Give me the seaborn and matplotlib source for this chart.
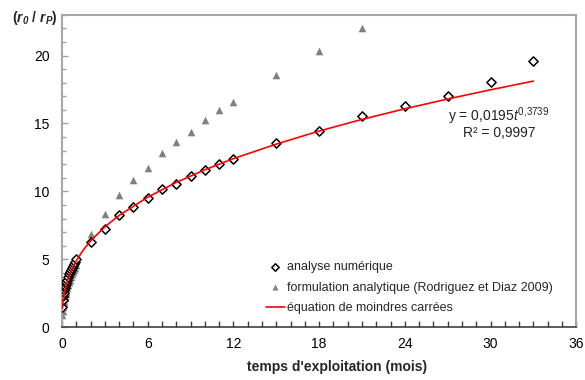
import numpy as np
import pandas as pd
import matplotlib
matplotlib.use('Agg')
import matplotlib.pyplot as plt
import seaborn as sns
from matplotlib.ticker import MultipleLocator

# ── 1. données ───────────────────────────────────────────────
# analyse numérique (losanges)
temps_num = [0.033, 0.067, 0.1, 0.133, 0.167, 0.2, 0.233, 0.267, 0.3, 0.367,
             0.433, 0.5, 0.567, 0.633, 0.7, 0.767, 0.833, 0.9, 1.0,
             2, 3, 4, 5, 6, 7, 8, 9, 10, 11, 12, 15, 18, 21, 24, 27, 30, 33]
r_num = [1.5, 2.0, 2.3, 2.55, 2.75, 2.9, 3.05, 3.2, 3.3, 3.5,
         3.7, 3.9, 4.05, 4.2, 4.35, 4.5, 4.65, 4.8, 5.0,
         6.27, 7.26, 8.28, 8.85, 9.49, 10.2, 10.57, 11.1, 11.6, 12.03, 12.4,
         13.55, 14.46, 15.54, 16.32, 16.99, 18.09, 19.61]

# formulation analytique (Rodriguez et Diaz 2009) (triangles)
temps_ana = [0.033, 0.067, 0.1, 0.133, 0.167, 0.2, 0.233, 0.267, 0.3, 0.367,
             0.433, 0.5, 0.567, 0.633, 0.7, 0.767, 0.833, 0.9, 1.0,
             2, 3, 4, 5, 6, 7, 8, 9, 10, 11, 12, 15, 18, 21]
r_ana = [0.9, 1.2, 1.5, 1.75, 1.95, 2.15, 2.3, 2.45, 2.6, 2.85,
         3.1, 3.3, 3.5, 3.7, 3.9, 4.05, 4.2, 4.35, 4.6,
         6.89, 8.31, 9.76, 10.83, 11.74, 12.84, 13.6, 14.39, 15.29, 15.96, 16.6,
         18.58, 20.32, 22.0]

# équation de moindres carrées (courbe rouge)
temps_fit = [0.033, 0.05, 0.075, 0.1, 0.15, 0.2, 0.3, 0.4, 0.5, 0.75, 1, 1.5,
             2, 3, 4, 6, 8, 10, 12, 15, 18, 21, 24, 27, 30, 33]
r_fit = [1.37, 1.60, 1.86, 2.07, 2.41, 2.68, 3.12, 3.48, 3.78, 4.40, 4.90, 5.70,
         6.35, 7.39, 8.23, 9.57, 10.66, 11.59, 12.41, 13.48, 14.44, 15.30,
         16.08, 16.80, 17.48, 18.12]

df_num = pd.DataFrame({'temps': temps_num, 'r': r_num})
df_ana = pd.DataFrame({'temps': temps_ana, 'r': r_ana})
df_fit = pd.DataFrame({'temps': temps_fit, 'r': r_fit})

# ── 2. style ─────────────────────────────────────────────────
sns.set_theme(style='white')
plt.rcParams['font.family'] = ['Liberation Sans', 'DejaVu Sans']
plt.rcParams['mathtext.fontset'] = 'custom'
plt.rcParams['mathtext.rm'] = 'Liberation Sans'
plt.rcParams['mathtext.it'] = 'Liberation Sans:italic'
plt.rcParams['mathtext.bf'] = 'Liberation Sans:bold'
plt.rcParams['mathtext.bfit'] = 'Liberation Sans:italic:bold'

fig, ax = plt.subplots(figsize=(5.85, 3.8), dpi=100)
fig.subplots_adjust(left=0.106, right=0.985, bottom=0.139, top=0.961)

# ── 3. tracé ─────────────────────────────────────────────────
sns.scatterplot(data=df_ana, x='temps', y='r', marker='^', color='#808080',
                s=30, linewidth=0, ax=ax, zorder=2,
                label='formulation analytique (Rodriguez et Diaz 2009)')
sns.scatterplot(data=df_num, x='temps', y='r', marker='D', facecolor='white',
                edgecolor='black', s=22, linewidth=1.1, ax=ax, zorder=3,
                label='analyse numérique')
sns.lineplot(data=df_fit, x='temps', y='r', color='red', linewidth=1.2,
             estimator=None, sort=False, ax=ax, zorder=4,
             label='équation de moindres carrées')

ax.set_xlim(0, 36)
ax.set_ylim(0, 23)
ax.xaxis.set_major_locator(MultipleLocator(6))
ax.xaxis.set_minor_locator(MultipleLocator(1))
ax.yaxis.set_major_locator(MultipleLocator(5))
ax.yaxis.set_minor_locator(MultipleLocator(1))

ax.tick_params(axis='x', which='both', direction='in', bottom=True,
               colors='#404040', labelcolor='black', labelsize=10, pad=7)
ax.tick_params(axis='x', which='major', length=4, width=1)
ax.tick_params(axis='x', which='minor', length=4, width=1)
ax.tick_params(axis='y', which='both', direction='in', left=True,
               colors='#a0a0a0', labelcolor='black', labelsize=10, pad=9)
ax.tick_params(axis='y', which='major', length=4, width=1)
ax.tick_params(axis='y', which='minor', length=3, width=1)

for side in ['left', 'top', 'right']:
    ax.spines[side].set_color('#a6a6a6')
    ax.spines[side].set_linewidth(1.5)
ax.spines['bottom'].set_color('#404040')
ax.spines['bottom'].set_linewidth(1.2)

ax.set_xlabel("temps d'exploitation (mois)", fontsize=10, fontweight='bold')
ax.xaxis.set_label_coords(0.535, -0.105)
ax.set_ylabel('')
fig.text(12 / 585, 1 - 18 / 380,
         r'$\mathbf{(}\mathbfit{r_0}\mathbf{\ /\ }\mathbfit{r_P}\mathbf{)}$',
         fontsize=10, ha='left', va='center')

# équation et R²
ax.text(0.85, 0.676, r'y = 0,0195$t^{\mathregular{0{,}3739}}$', transform=ax.transAxes,
        fontsize=10, ha='center', va='center', color='#222222')
ax.text(0.85, 0.622, 'R² = 0,9997', transform=ax.transAxes,
        fontsize=10, ha='center', va='center', color='#222222')

# légende dans l'ordre de la figure d'origine
handles, labels = ax.get_legend_handles_labels()
order = [1, 0, 2]
ax.legend([handles[i] for i in order], [labels[i] for i in order],
          loc='upper left', bbox_to_anchor=(0.387, 0.228), frameon=False,
          fontsize=9, handlelength=1.5, handletextpad=0.2, labelspacing=0.7,
          markerscale=0.8, borderaxespad=0)

plt.savefig('out.png', dpi=100)
